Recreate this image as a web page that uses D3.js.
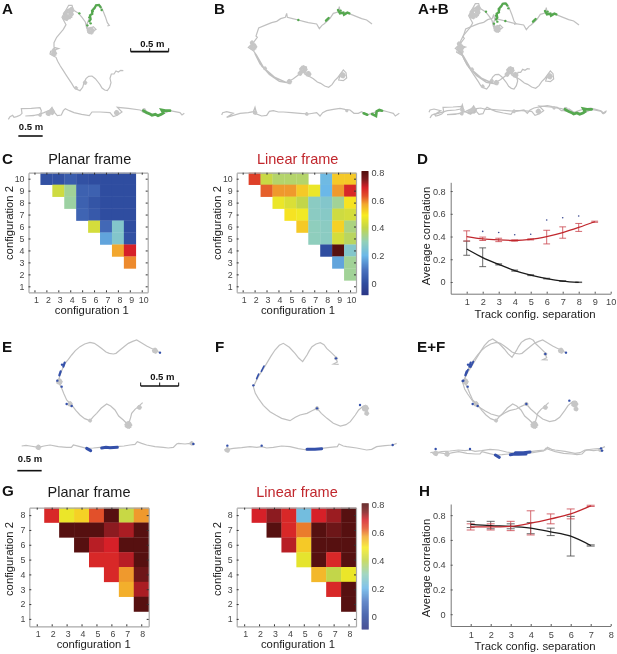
<!DOCTYPE html>
<html>
<head>
<meta charset="utf-8">
<script src="https://cdn.jsdelivr.net/npm/d3@7"></script>
<style>
  html, body { margin: 0; padding: 0; background: #fff; }
  text { font-family: "Liberation Sans", Arial, sans-serif; }
  svg { filter: blur(0.3px); }
</style>
</head>
<body>
<div id="chart"></div>
<script>
// correlation matrices, rows run from top (highest config) to bottom, null = no cell
var planarC = [
  [null,.01,.01,.04,.01,0,0,0,0,null],
  [null,null,.42,.33,.05,.05,0,0,0,null],
  [null,null,null,.32,.05,.02,0,0,0,null],
  [null,null,null,null,.06,.03,0,0,0,null],
  [null,null,null,null,null,.43,.07,.26,0,null],
  [null,null,null,null,null,null,.17,.26,.01,null],
  [null,null,null,null,null,null,null,.57,.69,null],
  [null,null,null,null,null,null,null,null,.59,null],
  [null,null,null,null,null,null,null,null,null,null],
  [null,null,null,null,null,null,null,null,null,null]
];
var linearC = [
  [null,.65,.41,.37,.37,.37,null,.21,.53,.53],
  [null,null,.62,.58,.58,.53,.47,.2,.58,.68],
  [null,null,null,.47,.44,.4,.28,.26,.33,.5],
  [null,null,null,null,.5,.48,.28,.27,.42,.43],
  [null,null,null,null,null,.53,.29,.28,.52,.35],
  [null,null,null,null,null,null,.29,.28,.43,.38],
  [null,null,null,null,null,null,null,0,.8,.26],
  [null,null,null,null,null,null,null,null,.17,.33],
  [null,null,null,null,null,null,null,null,null,.33],
  [null,null,null,null,null,null,null,null,null,null]
];
var planarG = [
  [null,.68,.47,.52,.63,.8,.41,.58],
  [null,null,.8,.8,.8,.74,.72,.8],
  [null,null,null,.8,.71,.69,.8,.8],
  [null,null,null,null,.68,.68,.71,.8],
  [null,null,null,null,null,.68,.58,.77],
  [null,null,null,null,null,null,.56,.72],
  [null,null,null,null,null,null,null,.8],
  [null,null,null,null,null,null,null,null]
];
var linearG = [
  [null,.69,.74,.68,.22,.69,.73,.8],
  [null,null,.8,.68,.6,.8,.77,.8],
  [null,null,null,.71,.53,.8,.8,.8],
  [null,null,null,null,.46,.8,.68,.8],
  [null,null,null,null,null,.55,.4,.47],
  [null,null,null,null,null,null,.68,.8],
  [null,null,null,null,null,null,null,.8],
  [null,null,null,null,null,null,null,null]
];

// panel D series
var sepD = [1,2,3,4,5,6,7,8,9];
var redD = [.40,.38,.37,.365,.375,.40,.435,.48,.53];
var redLoD = [.36,.365,.355,.36,.37,.335,.385,.445,.525];
var redHiD = [.45,.395,.385,.37,.38,.455,.485,.515,.535];
var blackD = [.29,.215,.155,.10,.06,.03,.008,-.003];
var blackLoD = [.235,.135,.15,.095,.056,.027,.005,-.005];
var blackHiD = [.36,.30,.16,.105,.064,.033,.011,0];
var starSep = [2,3,4,5,6,7,8];
var starD = [.445,.435,.415,.42,.545,.565,.58];

// panel H series
var sepH = [1,2,3,4,5,6,7];
var redH = [.705,.705,.71,.735,.77,.81,.875];
var redLoH = [.68,.68,.675,.64,.73,.77,.87];
var redHiH = [.73,.73,.75,.835,.81,.85,.88];
var blackH = [.725,.715,.71,.695,.665,.63,.555];
var blackLoH = [.70,.69,.69,.65,.635,.47,.55];
var blackHiH = [.75,.75,.73,.74,.695,.79,.56];

// colour map stops
var cmapVals = [-.09,0,.1,.2,.3,.4,.49,.57,.63,.69,.75,.8];
var cmapCols = ["#2b3585","#2f4da0","#4a74c0","#6bb8e8","#93d0b8","#c2d64a","#f7eb20","#f2a72e","#e2502a","#d62028","#7d1a1e","#561010"];
var cbarTicks = [0,.2,.4,.6,.8];

// animal tracks, read at 3x zoom so one unit is a third of a pixel
var trackA = [[370,212],[362,211],[355,216],[348,213],[342,222],[334,222],[330,235],[333,248],[329,262],[322,272],[314,270],[306,264],[300,254],[294,246],[286,236],[276,228],[266,229],[258,236],[252,248],[248,262],[240,272],[230,268],[222,262],[215,250],[207,238],[199,226],[190,212],[181,198],[173,184],[168,172],[160,168],[150,162],[152,154],[164,150],[176,146],[162,142],[162,128],[170,112],[180,100],[190,88],[198,74],[186,52],[196,34],[206,16],[216,16],[220,30],[236,40],[246,52],[256,66],[260,84],[268,100],[288,88],[280,80],[266,88],[260,74],[270,50],[280,24],[292,14],[302,18],[308,30],[316,50],[322,68],[328,76],[322,78]];
var trackALin = [[25,358],[30,350],[38,346],[42,352],[50,350],[60,346],[66,340],[64,326],[94,325],[120,323],[124,332],[122,342],[100,347],[76,348],[112,345],[132,338],[150,330],[156,322],[164,338],[172,347],[184,345],[190,332],[196,326],[208,332],[222,338],[245,343],[268,347],[276,336],[300,336],[330,338],[340,350],[352,346],[366,336],[352,322],[385,325],[420,330],[442,340],[482,345],[510,332],[525,335],[540,338],[546,345],[553,340]];
var trackB = [[1116,72],[1108,66],[1100,60],[1085,56],[1070,50],[1055,44],[1040,38],[1020,36],[1018,20],[1014,36],[1000,40],[990,55],[985,60],[972,72],[966,76],[958,86],[950,72],[925,68],[910,64],[895,60],[878,56],[862,52],[860,40],[856,52],[842,56],[830,64],[815,68],[800,74],[776,84],[768,108],[772,112],[760,128],[745,142],[760,152],[770,166],[778,186],[786,200],[800,212],[820,230],[840,240],[860,248],[838,244],[808,224],[780,192],[764,160],[770,166],[792,204],[825,232],[860,248],[880,236],[896,224],[905,216],[920,200],[914,222],[930,230],[940,236],[952,246],[962,250],[974,258],[986,262],[996,254],[1004,242],[1012,234],[1018,226],[1030,210],[1038,218],[1040,234],[1030,242],[1016,240],[1020,226]];
var trackBLin = [[665,345],[668,338],[680,335],[700,340],[680,352],[720,340],[745,338],[760,335],[765,322],[770,342],[785,348],[800,346],[808,334],[820,332],[835,336],[850,336],[875,338],[900,340],[925,342],[950,338],[960,348],[968,338],[980,332],[1000,328],[1020,325],[1035,328],[1050,330],[1062,340],[1075,340],[1085,335],[1100,345],[1115,340],[1130,335],[1150,332],[1165,336],[1180,340],[1186,348],[1198,340]];
var trackE = [[480,68],[465,60],[452,54],[440,48],[424,38],[410,30],[398,34],[385,40],[372,50],[360,60],[348,70],[340,72],[328,70],[318,66],[306,56],[295,48],[283,40],[270,37],[254,42],[240,50],[226,62],[215,75],[205,88],[195,100],[186,120],[180,135],[175,155],[185,175],[192,192],[200,210],[215,225],[228,242],[240,255],[254,266],[270,272],[280,260],[290,250],[304,234],[320,222],[332,228],[345,240],[356,258],[370,270],[385,285],[392,262],[395,250],[405,238],[415,230],[428,218]];
var trackELin = [[65,348],[78,346],[90,348],[115,352],[132,348],[150,345],[175,350],[200,352],[214,352],[220,345],[240,350],[260,355],[280,354],[300,352],[325,352],[350,350],[372,348],[390,345],[405,343],[412,335],[425,340],[440,345],[465,350],[490,352],[505,354],[520,352],[530,342],[535,340],[555,342],[570,340],[585,342]];
var trackF = [[1016,103],[1000,102],[1012,96],[1006,80],[994,68],[980,55],[972,44],[961,38],[948,42],[936,50],[928,62],[921,75],[908,95],[896,84],[885,70],[868,52],[850,40],[838,46],[825,60],[812,80],[800,100],[788,120],[775,140],[760,170],[766,190],[775,205],[790,226],[810,245],[828,256],[845,265],[870,272],[886,262],[900,255],[921,250],[936,242],[951,235],[964,250],[981,265],[1000,280],[1021,288],[1038,284],[1051,275],[1066,255],[1076,240],[1090,228],[1096,235]];
var trackFLin = [[672,360],[700,355],[725,353],[750,350],[770,352],[785,350],[800,354],[820,352],[845,348],[870,350],[895,356],[921,360],[945,358],[965,355],[990,352],[1012,350],[1017,342],[1030,348],[1040,350],[1070,354],[1100,360],[1115,358],[1130,350],[1155,347],[1178,345],[1190,340]];

// clutter on the tracks [x, y, size]
var blobsA = [[205,42,15],[198,52,9],[214,30,7],[272,92,10],[162,160,7],[255,248,4],[228,264,3],[162,150,4]];
var blobsALin = [[155,335,8],[145,340,6],[350,338,6],[432,332,5],[120,345,3]];
var blobsB = [[910,208,11],[925,222,7],[900,220,5],[760,140,10],[756,128,4],[868,245,6],[1028,226,7],[795,205,3]];
var blobsBLin = [[765,338,4],[920,342,3],[1040,332,2]];
var blobsE = [[178,155,8],[210,222,6],[385,285,10],[465,62,7],[418,232,5],[270,272,3]];
var blobsELin = [[115,352,6],[575,340,4]];
var blobsF = [[1096,235,9],[1100,250,5],[951,235,4],[1008,85,3]];
var blobsFLin = [[682,360,6]];
var scribble = [[0,0],[.8,.2],[.3,.9],[-.6,.6],[-.9,-.1],[-.3,-.8],[.5,-.7],[.9,0],[.2,.5],[-.5,.2],[-.2,-.4],[.4,-.2],[.6,.6],[-.2,.8],[-.8,.4],[-.6,-.5],[.1,-.9],[.7,-.4]];

// place-field segments and dots
var greenA = [[[268,64],[272,58],[270,46],[277,42],[276,32],[284,24],[288,16],[297,15],[302,22]]];
var greenADots = [[238,40],[262,76],[272,70],[305,30],[278,34],[268,52]];
var greenALin = [[[430,332],[440,338],[450,342],[456,346],[466,343],[474,347],[484,343],[490,339],[485,330],[496,332],[510,332]]];
var greenB = [[[1014,30],[1020,40],[1030,38],[1032,44],[1042,38],[1048,40]],[[978,62],[986,54]]];
var greenBDots = [[895,60],[1022,32]];
var greenBLin = [[[1091,340],[1102,344]],[[1116,342],[1124,346],[1128,348],[1130,334],[1138,330],[1146,332]]];
var blueE = [[[194,98],[190,110]],[[182,124],[178,136]]];
var blueEDots = [[172,152],[185,170],[200,222],[215,228],[480,68],[186,104]];
var blueELin = [[[305,354],[318,352],[330,353],[352,352]],[[260,355],[272,362]]];
var blueELinDots = [[580,342]];
var blueF = [[[792,108],[784,124]],[[776,132],[770,146]]];
var blueFDots = [[760,166],[1008,85],[951,235],[1080,225]];
var blueFLin = [[[921,358],[945,358],[965,356]]];
var blueFLinDots = [[682,347],[785,347],[1178,345]];

var width = 617, height = 654;

var svg = d3.select("#chart").append("svg")
  .attr("width", width).attr("height", height)
  .style("display", "block");

var colorMap = d3.scaleLinear().domain(cmapVals).range(cmapCols).clamp(true);

var tx = d3.scaleLinear().domain([0, 1851]).range([0, 617]);
var ty = d3.scaleLinear().domain([0, 450]).range([0, 150]);
var trackLine = d3.line().x(d => tx(d[0])).y(d => ty(d[1]));

function drawTrack(g, pts, blobs, dx, dy) {
  var p = g.append("g").attr("transform", "translate(" + tx(dx) + "," + ty(dy) + ")");
  p.append("path").attr("d", trackLine(pts))
    .attr("fill", "none").attr("stroke", "#c0c0c0").attr("stroke-width", 1.2);
  blobs.forEach(b => {
    p.append("path")
      .attr("d", trackLine(scribble.map(s => [b[0] + s[0] * b[2], b[1] + s[1] * b[2]])))
      .attr("fill", "none").attr("stroke", "#c6c6c6").attr("stroke-width", 1.9);
  });
}

function drawField(g, segs, dots, col, dx, dy, w) {
  var p = g.append("g").attr("transform", "translate(" + tx(dx) + "," + ty(dy) + ")");
  segs.forEach(s => p.append("path").attr("d", trackLine(s))
    .attr("fill", "none").attr("stroke", col).attr("stroke-width", w).attr("stroke-linecap", "round"));
  p.selectAll("circle").data(dots).enter().append("circle")
    .attr("cx", d => tx(d[0])).attr("cy", d => ty(d[1])).attr("r", 1.2).attr("fill", col);
}

function scaleBar(g, x0, x1, y, labelX, labelY, ends) {
  var b = g.append("g").attr("transform", "translate(0," + ty(y) + ")");
  b.append("line").attr("x1", tx(x0)).attr("x2", tx(x1))
    .attr("stroke", "#111").attr("stroke-width", 1.6);
  if (ends) {
    [x0, (x0 + x1) / 2, x1].forEach(v => b.append("line")
      .attr("x1", tx(v)).attr("x2", tx(v)).attr("y1", 0).attr("y2", -3.5)
      .attr("stroke", "#111").attr("stroke-width", 1));
  }
  g.append("text").attr("x", tx(labelX)).attr("y", ty(labelY))
    .attr("text-anchor", "middle").attr("font-size", 9.5).attr("font-weight", "bold")
    .attr("fill", "#111").text("0.5 m");
}

var topRow = svg.append("g");
drawTrack(topRow, trackA, blobsA, 0, 0);
drawTrack(topRow, trackALin, blobsALin, 0, 0);
drawField(topRow, greenA, greenADots, "#55a84f", 0, 0, 2.2);
drawField(topRow, greenALin, [], "#55a84f", 0, 0, 2.8);
drawTrack(topRow, trackB, blobsB, 0, 0);
drawTrack(topRow, trackBLin, blobsBLin, 0, 0);
drawField(topRow, greenB, greenBDots, "#55a84f", 0, 0, 2.4);
drawField(topRow, greenBLin, [], "#55a84f", 0, 0, 2.6);
drawTrack(topRow, trackA, blobsA, 1220, -5);
drawTrack(topRow, trackB, blobsB, 621, 3);
drawTrack(topRow, trackALin, blobsALin, 1265, -4);
drawTrack(topRow, trackBLin, blobsBLin, 622, -8);
drawField(topRow, greenA, greenADots, "#55a84f", 1220, -5, 2.2);
drawField(topRow, greenB, greenBDots, "#55a84f", 621, 3, 2.4);
drawField(topRow, greenALin, [], "#55a84f", 1265, -4, 2.8);
scaleBar(topRow, 392, 506, 155, 457, 141, true);
scaleBar(topRow, 55, 128, 408, 93, 389, false);

var lowRow = svg.append("g").attr("transform", "translate(0,330)");
drawTrack(lowRow, trackE, blobsE, 0, 0);
drawTrack(lowRow, trackELin, blobsELin, 0, 0);
drawField(lowRow, blueE, blueEDots, "#3450aa", 0, 0, 2.2);
drawField(lowRow, blueELin, blueELinDots, "#3450aa", 0, 0, 3);
drawTrack(lowRow, trackF, blobsF, 0, 0);
drawTrack(lowRow, trackFLin, blobsFLin, 0, 0);
drawField(lowRow, blueF, blueFDots, "#3450aa", 0, 0, 1.6);
drawField(lowRow, blueFLin, blueFLinDots, "#3450aa", 0, 0, 3);
drawTrack(lowRow, trackE, blobsE, 1218, 0);
drawTrack(lowRow, trackF, blobsF, 628, -13);
drawTrack(lowRow, trackELin, blobsELin, 1226, 20);
drawTrack(lowRow, trackFLin, blobsFLin, 625, 10);
drawField(lowRow, blueE, blueEDots, "#3450aa", 1218, 0, 2.2);
drawField(lowRow, blueF, blueFDots, "#3450aa", 628, -13, 1.8);
drawField(lowRow, blueELin, blueELinDots, "#3450aa", 1226, 20, 3);
drawField(lowRow, blueFLin, blueFLinDots, "#3450aa", 625, 10, 3);
scaleBar(lowRow, 422, 536, 168, 487, 150, true);
scaleBar(lowRow, 52, 125, 422, 90, 397, false);

function heatmap(matrix, left, right, top, bottom, labelDx) {
  var n = matrix.length;
  var ticks = d3.range(1, n + 1);
  var x = d3.scaleLinear().domain([.5, n + .5]).range([left, right]);
  var y = d3.scaleLinear().domain([.5, n + .5]).range([bottom, top]);
  var g = svg.append("g");
  matrix.forEach((row, r) => row.forEach((v, c) => {
    if (v === null) return;
    g.append("rect")
      .attr("x", x(c + .5)).attr("width", x(c + 1.5) - x(c + .5) + .3)
      .attr("y", y(n - r + .5)).attr("height", y(n - r - .5) - y(n - r + .5) + .3)
      .attr("fill", colorMap(v));
  }));
  var axes = [
    [d3.axisBottom(x), 0, bottom, true, true], [d3.axisTop(x), 0, top, false, true],
    [d3.axisLeft(y), left, 0, true, false], [d3.axisRight(y), right, 0, false, false]
  ];
  axes.forEach(a => {
    var ax = g.append("g").attr("transform", "translate(" + a[1] + "," + a[2] + ")")
      .call(a[0].tickValues(ticks).tickFormat(a[3] ? d3.format("d") : "").tickSizeInner(-2).tickSizeOuter(0).tickPadding(4));
    ax.select(".domain").attr("stroke", "#a9a9a9").attr("stroke-width", 1.2);
    ax.selectAll("line").attr("stroke", "#333").attr("stroke-width", 1);
    ax.selectAll("text").attr("font-size", 8.8).attr("fill", "#444")
      .style("font-family", '"Liberation Sans", Arial, sans-serif');
    if (a[4]) ax.selectAll("text").attr("dx", labelDx);
  });
}

function colorbar(left, right, top, bottom, v0, v1) {
  var y = d3.scaleLinear().domain([v0, v1]).range([bottom, top]);
  var g = svg.append("g");
  var stops = d3.range(0, bottom - top);
  g.selectAll("rect").data(stops).enter().append("rect")
    .attr("x", left).attr("width", right - left)
    .attr("y", d => top + d).attr("height", 1.2)
    .attr("fill", d => colorMap(y.invert(top + d + .5)));
  var ax = g.append("g").attr("transform", "translate(" + right + ",0)")
    .call(d3.axisRight(y).tickValues(cbarTicks).tickFormat(d => d === 0 ? "0" : d3.format(".1f")(d)).tickSize(0).tickPadding(3));
  ax.select(".domain").remove();
  ax.selectAll("text").attr("font-size", 9.2).attr("fill", "#444")
    .style("font-family", '"Liberation Sans", Arial, sans-serif');
}

function errorBars(g, x, y, seps, lo, hi, col, capW) {
  seps.forEach((s, i) => {
    g.append("line").attr("x1", x(s)).attr("x2", x(s)).attr("y1", y(lo[i])).attr("y2", y(hi[i]))
      .attr("stroke", col).attr("stroke-width", .8);
    [lo[i], hi[i]].forEach(v => g.append("line")
      .attr("x1", x(s) - capW).attr("x2", x(s) + capW).attr("y1", y(v)).attr("y2", y(v))
      .attr("stroke", col).attr("stroke-width", .8));
  });
}

function linePanel(opts) {
  var x = d3.scaleLinear().domain([0, opts.xMax]).range([450.7, 610.7]);
  var y = d3.scaleLinear().domain(opts.yDomain).range([opts.bottom, opts.top]);
  var g = svg.append("g");
  var line = d3.line().curve(d3.curveMonotoneX).x(d => x(d[0])).y(d => y(d[1]));
  var ax = g.append("g").attr("transform", "translate(0," + opts.bottom + ")")
    .call(d3.axisBottom(x).tickValues(d3.range(1, opts.xMax + 1)).tickFormat(d3.format("d")).tickSizeInner(-2).tickSizeOuter(0).tickPadding(5));
  var ay = g.append("g").attr("transform", "translate(450.7,0)")
    .call(d3.axisLeft(y).tickValues([0,.2,.4,.6,.8]).tickFormat(d => d === 0 ? "0" : d3.format(".1f")(d)).tickSizeInner(-2).tickSizeOuter(0).tickPadding(5));
  [ax, ay].forEach(a => {
    a.select(".domain").attr("stroke", "#777").attr("stroke-width", 1);
    a.selectAll("line").attr("stroke", "#555");
    a.selectAll("text").attr("font-size", 9.2).attr("fill", "#444")
      .style("font-family", '"Liberation Sans", Arial, sans-serif');
  });
  errorBars(g, x, y, opts.sep, opts.blackLo, opts.blackHi, "#444", opts.capW);
  errorBars(g, x, y, opts.sep.concat(opts.extraSep || []), opts.redLo, opts.redHi, "#c9434b", opts.capW);
  g.append("path").attr("d", line(opts.sep.map((s, i) => [s, opts.black[i]])))
    .attr("fill", "none").attr("stroke", "#1a1a1a").attr("stroke-width", 1.3);
  g.append("path").attr("d", line(opts.sep.concat(opts.extraSep || []).map((s, i) => [s, opts.red[i]])))
    .attr("fill", "none").attr("stroke", "#c1272d").attr("stroke-width", 1.3);
  if (opts.stars) {
    g.selectAll("circle").data(opts.stars).enter().append("circle")
      .attr("cx", d => x(d[0])).attr("cy", d => y(d[1])).attr("r", .8).attr("fill", "#3a4a90");
  }
}

heatmap(planarC, 28.5, 147.7, 172.7, 292.3, 1.5);
heatmap(linearC, 236.7, 356, 172.7, 292.3, 1);
heatmap(planarG, 29.3, 148.7, 507.7, 626.3, 1);
heatmap(linearG, 236.7, 356, 507.7, 626.3, 1);
colorbar(361.5, 368.5, 171, 295, -.086, .81);
colorbar(361.7, 368.7, 503.3, 629, -.093, .81);

linePanel({ xMax: 10, yDomain: [-.103, .877], top: 182.3, bottom: 293.7, capW: 3.4,
  sep: sepD.slice(0, 8), extraSep: sepD.slice(8),
  black: blackD, blackLo: blackLoD, blackHi: blackHiD,
  red: redD, redLo: redLoD, redHi: redHiD,
  stars: starSep.map((s, i) => [s, starD[i]]) });
linePanel({ xMax: 8, yDomain: [-.095, .89], top: 504, bottom: 626, capW: 4,
  sep: sepH, black: blackH, blackLo: blackLoH, blackHi: blackHiH,
  red: redH, redLo: redLoH, redHi: redHiH });

// labels
function label(txt, xp, yp, size, opts) {
  opts = opts || {};
  svg.append("text")
    .attr("transform", "translate(" + xp + "," + yp + ")" + (opts.rotate ? " rotate(-90)" : ""))
    .attr("text-anchor", opts.anchor || "middle")
    .attr("font-size", size)
    .attr("font-weight", opts.bold ? "bold" : "normal")
    .attr("fill", opts.color || "#1a1a1a")
    .text(txt);
}
var letters = [["A",2,13.8],["B",214,13.8],["A+B",418,13.8],["C",2,164],["D",417,164],["E",2,352],["F",215,352],["E+F",417,352],["G",2,496],["H",419,496]];
letters.forEach(l => label(l[0], l[1], l[2], 15.2, { bold: true, anchor: "start", color: "#111" }));

label("Planar frame", 89.7, 164, 14.5);
label("Linear frame", 297.7, 164, 14.5, { color: "#c1272d" });
label("Planar frame", 89, 496.7, 14.5);
label("Linear frame", 297, 497, 14.5, { color: "#c1272d" });

label("configuration 1", 91.8, 314, 11.3);
label("configuration 1", 298, 314, 11.3);
label("configuration 1", 93.7, 648, 11.3);
label("configuration 1", 298, 648, 11.3);
label("configuration 2", 13, 223, 11.3, { rotate: true });
label("configuration 2", 221, 223, 11.3, { rotate: true });
label("configuration 2", 13, 559, 11.3, { rotate: true });
label("configuration 2", 221, 559, 11.3, { rotate: true });

label("Track config. separation", 535, 318, 11.4);
label("Track config. separation", 535, 650, 11.4);
label("Average correlation", 430, 236, 11.4, { rotate: true });
label("Average correlation", 430, 568, 11.4, { rotate: true });
</script>
</body>
</html>
